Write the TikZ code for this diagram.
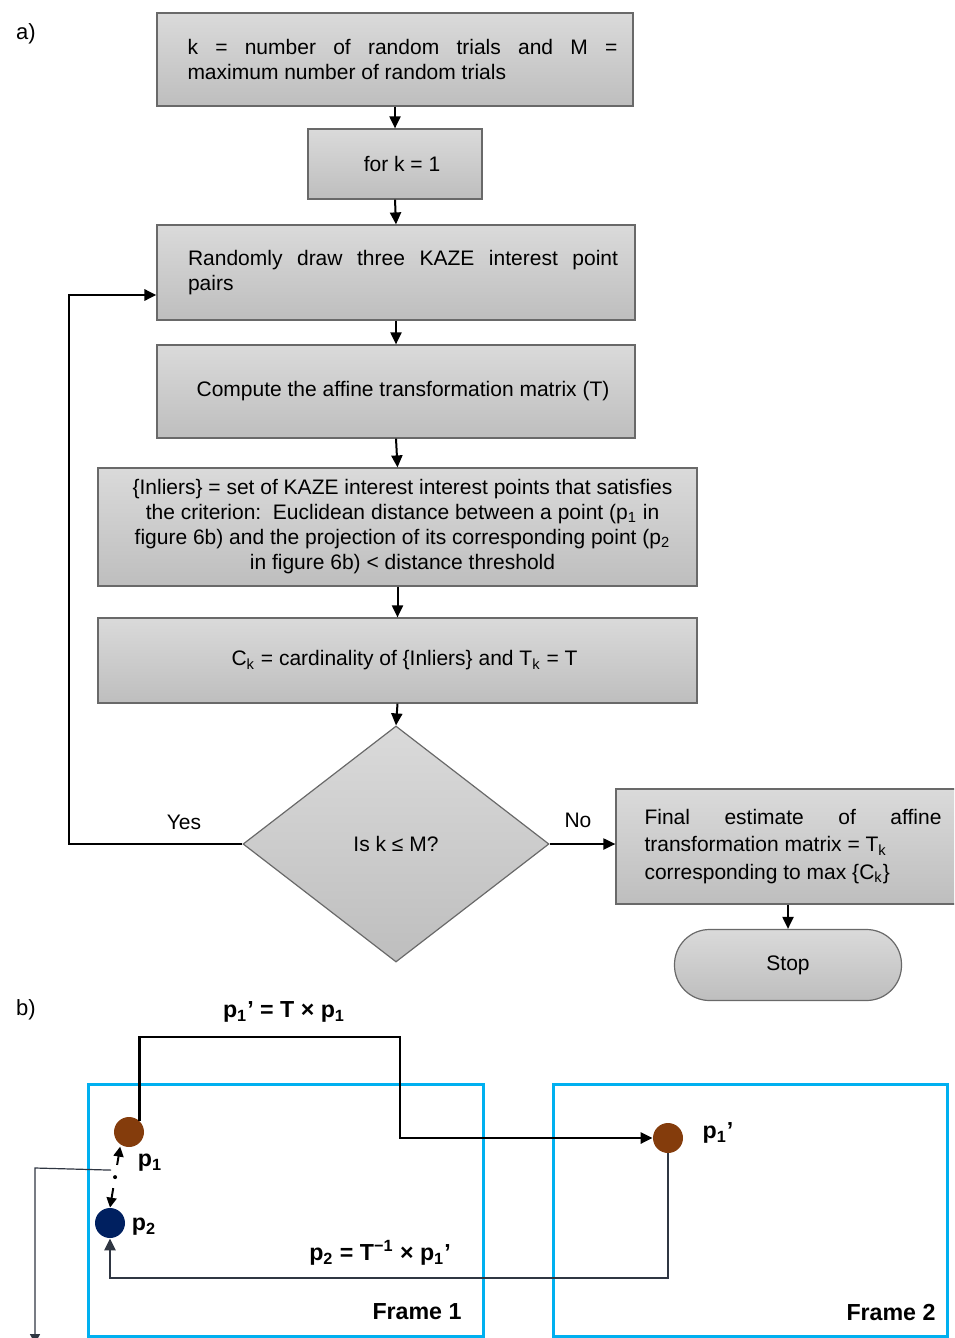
\documentclass[tikz,border=0pt]{standalone}
\usepackage{fontspec}
\setmainfont{Liberation Sans}
\usetikzlibrary{arrows.meta,shapes.geometric,calc}
\definecolor{boxtop}{RGB}{218,218,218}
\definecolor{boxbot}{RGB}{190,190,190}
\definecolor{boxline}{RGB}{105,105,105}
\definecolor{frameblue}{RGB}{0,176,240}
\definecolor{brownpt}{RGB}{132,60,12}
\definecolor{navypt}{RGB}{0,32,96}
\definecolor{slate}{RGB}{47,54,66}
\newcommand{\tshift}{\hspace*{7pt}}
\tikzset{
  flowbox/.style={draw=boxline, line width=0.6pt, top color=boxtop, bottom color=boxbot,
    inner sep=0pt, font=\fontsize{10.5}{12.5}\selectfont},
  flowarrow/.style={line width=1pt, -{Triangle[length=6pt,width=5.5pt]}},
  loopline/.style={line width=1.4pt},
  lbl/.style={font=\fontsize{10.5}{12}\selectfont, inner sep=0pt},
  boldlbl/.style={font=\fontsize{11.6}{13}\selectfont\bfseries, inner sep=0pt},
  framebox/.style={draw=frameblue, line width=1.5pt},
  dotpt/.style={circle, inner sep=0pt, minimum size=15pt},
}
\begin{document}
\begin{tikzpicture}[x=0.5pt,y=-0.5pt]
\useasboundingbox (0,0) rectangle (954,1338);
\clip (0,0) rectangle (954,1338);
% ---------- part a
\node[lbl, font=\fontsize{11}{13}\selectfont] (la) at (26,34) {a)};
\node[flowbox, minimum width=238pt, minimum height=46.5pt] (b1) at (395,59.5)
  {\hspace*{7.5pt}\parbox[c]{215pt}{k = number of random trials and M =\linebreak maximum number of random trials}};
\node[flowbox, minimum width=87pt, minimum height=35pt] (b2) at (395,164) {\tshift for k = 1};
\node[flowbox, minimum width=239pt, minimum height=47.5pt] (b3) at (396,272.5)
  {\hspace*{7pt}\parbox[c]{215pt}{Randomly draw three KAZE interest point\linebreak pairs}};
\node[flowbox, minimum width=239pt, minimum height=46.5pt] (b4) at (396,391.5)
  {\tshift Compute the affine transformation matrix (T)};
\node[flowbox, minimum width=299.5pt, minimum height=59pt] (b5) at (397.5,527)
  {\hspace*{5pt}\begin{tabular}{@{}c@{}}
   \{Inliers\} = set of KAZE interest interest points that satisfies\\
   the criterion:\ \ Euclidean distance between a point (p\textsubscript{1} in\\
   figure 6b) and the projection of its corresponding point (p\textsubscript{2}\\
   in figure 6b) {<} distance threshold\end{tabular}};
\node[flowbox, minimum width=299.5pt, minimum height=42.5pt] (b6) at (397.5,660.5)
  {\tshift C\textsubscript{k} = cardinality of \{Inliers\} and T\textsubscript{k} = T};
\node[flowbox, diamond, minimum width=153pt, minimum height=118pt, aspect=1.3] (dec) at (396,844)
  {Is k ≤ M?};
\node[flowbox, minimum width=177pt, minimum height=57.5pt, text width=148.5pt, align=justify,
  font=\fontsize{10.5}{13.75}\selectfont] (b7) at (793,846.5)
  {Final estimate of affine\linebreak transformation matrix = T\textsubscript{k}\newline corresponding to max \{C\textsubscript{k}\}};
\node[flowbox, minimum width=113.5pt, minimum height=35.5pt, rounded corners=17.5pt] (stop) at (788,965) {Stop};

\draw[flowarrow] (b1.south) -- (b2.north);
\draw[flowarrow] (b2.south) -- (b3.north);
\draw[flowarrow] (b3.south) -- (b4.north);
\draw[flowarrow] (b4.south) -- (b5.north);
\draw[flowarrow] (b5.south) -- (b6.north);
\draw[flowarrow] (b6.south) -- (dec.north);
\coordinate (yc) at (69,844);
\draw[loopline, -{Triangle[length=6pt,width=5.5pt]}] (dec.west) -- (yc) |- ($(b3.west)+(0,22.5)$);
\draw[flowarrow] (dec.east) -- (dec.east -| b7.west);
\draw[flowarrow] (stop.north |- b7.south) -- (stop.north);
\node[lbl] (yes) at (184,822) {Yes};
\node[lbl] (no) at (578,820) {No};

% ---------- part b
\node[lbl, font=\fontsize{11}{13}\selectfont] (lb) at (26,1010) {b)};
\node[boldlbl] (eq1) at (284,1012) {p\textsubscript{1}’ = T × p\textsubscript{1}};
\draw[framebox] (88,1084) rectangle (483,1336);
\draw[framebox] (553,1084) rectangle (947,1336);
\node[boldlbl] (f1) at (417,1312) {Frame 1};
\node[boldlbl] (f2) at (891,1312) {Frame 2};

\node[dotpt, fill=brownpt] (p1) at (129,1132) {};
\node[dotpt, fill=navypt] (p2) at (110,1223) {};
\node[dotpt, fill=brownpt] (p1p) at (668,1138) {};
\node[boldlbl] (lp1) at (150,1163) {p\textsubscript{1}};
\node[boldlbl] (lp2) at (144,1227) {p\textsubscript{2}};
\node[boldlbl] (lp1p) at (718,1133) {p\textsubscript{1}’};
\node[boldlbl] (eq2) at (380,1253) {p\textsubscript{2} = T\textsuperscript{−1} × p\textsubscript{1}’};

\coordinate (t1) at (400,1037);
\draw[line width=1.4pt, -{Triangle[length=6pt,width=5.5pt]}] (p1.45) |- (t1) |- (p1p.west);
\coordinate (t2) at (110,1278);
\draw[line width=1.4pt, draw=slate, -{Triangle[length=6pt,width=5.5pt,fill=slate]}] (p1p.south) |- (t2) -- (p2.south);

\coordinate (da) at ($(p1.235)+(0,2)$);
\coordinate (db) at (p2.north);
\coordinate (dm) at ($(da)!0.5!(db)$);
\draw[line width=1pt, -{Triangle[length=5pt,width=5pt]}] ($(da)!0.3!(db)$) -- (da);
\draw[line width=1pt, -{Triangle[length=5pt,width=5pt]}] ($(da)!0.68!(db)$) -- (db);
\fill (dm) circle (1pt);
\coordinate (c1) at (35,1168);
\draw[line width=0.6pt, draw=slate, -{Triangle[length=5pt,width=5pt,fill=slate]}] ($(dm)+(-4,-7)$) -- (c1) -- (35,1344);
\end{tikzpicture}
\end{document}
